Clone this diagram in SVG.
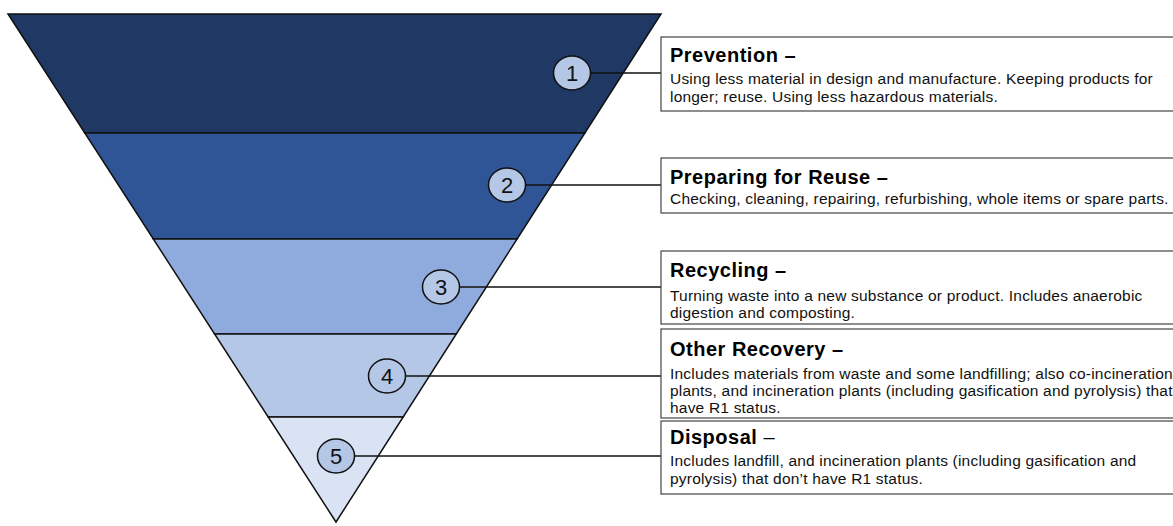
<svg xmlns="http://www.w3.org/2000/svg" width="1173" height="526" viewBox="0 0 1173 526">
<style>
.band{stroke:#111;stroke-width:1.5;stroke-linejoin:miter}
.num ellipse{fill:#b4c7e7;stroke:#111;stroke-width:1.5}
.num text{font-family:"Liberation Sans",Arial,sans-serif;font-size:22px;fill:#111;text-anchor:middle}
.box rect{fill:#fff;stroke:#444;stroke-width:1.2}
.t{font-family:"Liberation Sans",Arial,sans-serif;font-size:20px;letter-spacing:0.5px;font-weight:bold;fill:#000}
.b{font-family:"Liberation Sans",Arial,sans-serif;font-size:15.5px;letter-spacing:0.2px;fill:#111}
.conn line{stroke:#111;stroke-width:1.5}
</style>
<rect width="1173" height="526" fill="#fff"/>
<g id="pyramid">
<polygon class="band" fill="#1f3864" points="8,14 661,14 584.9,133 84.8,133"/>
<polygon class="band" fill="#2f5597" points="84.8,133 584.9,133 517.1,239 153.3,239"/>
<polygon class="band" fill="#8faadc" points="153.3,239 517.1,239 456.3,334 214.6,334"/>
<polygon class="band" fill="#b4c7e7" points="214.6,334 456.3,334 403.2,417 268.2,417"/>
<polygon class="band" fill="#dae3f3" points="268.2,417 403.2,417 336,522"/>
</g>
<g id="connectors" class="conn">
<line x1="590" y1="73" x2="661" y2="73"/>
<line x1="525" y1="185" x2="661" y2="185"/>
<line x1="459" y1="287" x2="661" y2="287"/>
<line x1="405" y1="376" x2="661" y2="376"/>
<line x1="354" y1="456" x2="661" y2="456"/>
</g>
<g id="n1" class="num"><ellipse cx="572" cy="73" rx="18.5" ry="17"/><text x="572" y="81">1</text></g>
<g id="n2" class="num"><ellipse cx="507" cy="185" rx="18.5" ry="17"/><text x="507" y="193">2</text></g>
<g id="n3" class="num"><ellipse cx="441" cy="287" rx="18.5" ry="17"/><text x="441" y="295">3</text></g>
<g id="n4" class="num"><ellipse cx="387" cy="376" rx="18.5" ry="17"/><text x="387" y="384">4</text></g>
<g id="n5" class="num"><ellipse cx="336" cy="456" rx="18.5" ry="17"/><text x="336" y="464">5</text></g>
<g id="box1" class="box">
<rect x="661" y="37" width="530" height="74"/>
<text class="t" x="670" y="62">Prevention –</text>
<text class="b" x="670" y="84">Using less material in design and manufacture. Keeping products for</text>
<text class="b" x="670" y="102">longer; reuse. Using less hazardous materials.</text>
</g>
<g id="box2" class="box">
<rect x="661" y="158" width="530" height="55"/>
<text class="t" x="670" y="184">Preparing for Reuse –</text>
<text class="b" x="670" y="204">Checking, cleaning, repairing, refurbishing, whole items or spare parts.</text>
</g>
<g id="box3" class="box">
<rect x="661" y="251" width="530" height="73"/>
<text class="t" x="670" y="277">Recycling –</text>
<text class="b" x="670" y="301">Turning waste into a new substance or product. Includes anaerobic</text>
<text class="b" x="670" y="318">digestion and composting.</text>
</g>
<g id="box4" class="box">
<rect x="661" y="329" width="530" height="89"/>
<text class="t" x="670" y="356">Other Recovery –</text>
<text class="b" x="670" y="379">Includes materials from waste and some landfilling; also co-incineration</text>
<text class="b" x="670" y="396">plants, and incineration plants (including gasification and pyrolysis) that</text>
<text class="b" x="670" y="413">have R1 status.</text>
</g>
<g id="box5" class="box">
<rect x="661" y="421" width="530" height="73"/>
<text class="t" x="670" y="444">Disposal <tspan font-weight="normal">–</tspan></text>
<text class="b" x="670" y="466">Includes landfill, and incineration plants (including gasification and</text>
<text class="b" x="670" y="484">pyrolysis) that don’t have R1 status.</text>
</g>
</svg>
